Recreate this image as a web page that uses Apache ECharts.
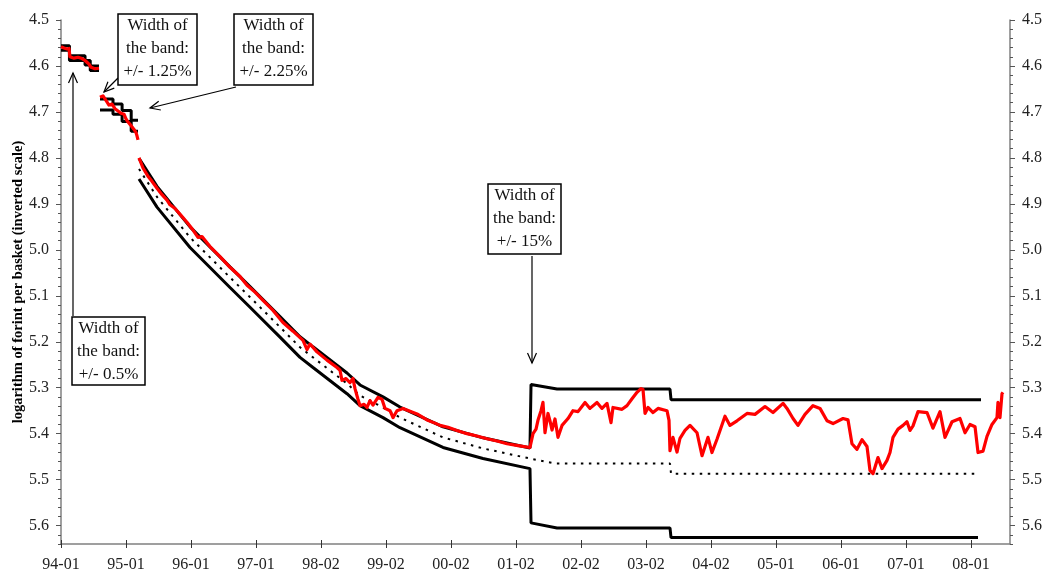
<!DOCTYPE html>
<html>
<head>
<meta charset="utf-8">
<script src="https://cdn.jsdelivr.net/npm/echarts@6/dist/echarts.min.js"></script>
<style>html,body{margin:0;padding:0;background:#fff}#c{width:1046px;height:576px}</style>
</head>
<body>
<div id="c"></div>
<script>
// x positions are in "tick units": 0 = 94-01, 1 = 95-01, ... (one tick per labelled date)
const tickLabels = ['94-01','95-01','96-01','97-01','98-02','99-02','00-02','01-02','02-02','03-02','04-02','05-01','06-01','07-01','08-01'];
const yTickValues = [4.5,4.6,4.7,4.8,4.9,5.0,5.1,5.2,5.3,5.4,5.5,5.6];

// early narrow bands (step lines)
const earlyUpper = [[0,4.556],[0.13,4.578],[0.37,4.588],[0.45,4.600],[0.585,4.600],[0.59,'-'],
  [0.6,4.672],[0.8,4.683],[0.94,4.697],[1.08,4.718],[1.185,4.718]];
const earlyLower = [[0,4.566],[0.13,4.588],[0.37,4.598],[0.45,4.610],[0.585,4.610],[0.59,'-'],
  [0.6,4.696],[0.8,4.705],[0.94,4.721],[1.08,4.742],[1.185,4.742]];

// crawling peg band and the later +/-15% band
const bandUpper = [[1.2,4.801],[1.477,4.862],[1.985,4.950],[2.6,5.037],[2.908,5.080],[3.369,5.145],[3.677,5.189],
  [3.877,5.211],[4.4,5.268],[4.6,5.294],[4.954,5.320],[5.215,5.342],[5.877,5.385],[6.492,5.409],[7.215,5.431],
  [7.231,5.293],[7.631,5.303],[9.369,5.303],[9.385,5.326],[14.154,5.326]];
const bandLower = [[1.2,4.846],[1.477,4.907],[1.985,4.995],[2.6,5.082],[2.908,5.125],[3.369,5.190],[3.677,5.234],
  [3.877,5.256],[4.4,5.313],[4.6,5.339],[4.954,5.365],[5.215,5.387],[5.877,5.430],[6.492,5.454],[7.215,5.476],
  [7.231,5.594],[7.631,5.605],[9.369,5.605],[9.385,5.626],[14.108,5.626]];
const bandCentral = [[1.2,4.824],[1.477,4.885],[1.985,4.973],[2.6,5.060],[2.908,5.103],[3.369,5.168],[3.677,5.212],
  [3.877,5.234],[4.4,5.291],[4.6,5.317],[4.954,5.343],[5.215,5.365],[5.877,5.408],[6.492,5.432],[7.215,5.454],
  [7.6,5.465],[9.369,5.465],[9.385,5.487],[14.092,5.487]];

// exchange rate (log forint per basket)
const rate = [[0,4.558],[0.046,4.561],[0.092,4.563],[0.123,4.562],[0.138,4.580],[0.2,4.583],[0.262,4.581],[0.323,4.584],
  [0.369,4.588],[0.4,4.592],[0.431,4.596],[0.462,4.603],[0.523,4.606],[0.585,4.605],[0.59,'-'],
  [0.6,4.668],[0.646,4.665],[0.692,4.675],[0.738,4.685],[0.785,4.683],[0.831,4.693],[0.877,4.698],[0.923,4.703],
  [0.969,4.705],[1.0,4.715],[1.031,4.722],[1.062,4.727],[1.092,4.730],[1.123,4.738],[1.154,4.745],[1.169,4.752],
  [1.185,4.761],[1.19,'-'],
  [1.2,4.800],[1.262,4.822],[1.338,4.840],[1.4,4.851],[1.477,4.866],[1.554,4.880],[1.631,4.892],[1.677,4.902],
  [1.754,4.910],[1.846,4.925],[1.938,4.940],[2.031,4.957],[2.108,4.973],[2.169,4.971],[2.292,4.993],[2.446,5.015],
  [2.6,5.038],[2.754,5.058],[2.862,5.077],[2.985,5.092],[3.108,5.110],[3.262,5.132],[3.415,5.158],[3.569,5.177],
  [3.723,5.197],[3.785,5.217],[3.831,5.205],[3.938,5.222],[4.092,5.240],[4.246,5.256],[4.292,5.262],[4.323,5.284],
  [4.385,5.280],[4.446,5.289],[4.492,5.280],[4.523,5.302],[4.569,5.325],[4.6,5.339],[4.662,5.336],[4.708,5.343],
  [4.754,5.328],[4.8,5.338],[4.877,5.321],[4.938,5.325],[4.985,5.345],[5.062,5.350],[5.108,5.365],[5.169,5.350],
  [5.262,5.345],[5.369,5.351],[5.477,5.357],[5.631,5.370],[5.754,5.377],[5.831,5.382],[5.954,5.386],[6.092,5.393],
  [6.246,5.400],[6.4,5.405],[6.554,5.411],[6.708,5.416],[6.862,5.422],[7.031,5.426],[7.215,5.430],
  [7.231,5.432],[7.262,5.400],[7.308,5.390],[7.338,5.371],[7.385,5.350],[7.415,5.332],[7.446,5.398],[7.492,5.356],
  [7.523,5.372],[7.554,5.392],[7.6,5.368],[7.646,5.408],[7.708,5.382],[7.8,5.367],[7.877,5.350],[7.954,5.352],
  [8.062,5.332],[8.138,5.345],[8.246,5.332],[8.323,5.345],[8.4,5.334],[8.462,5.376],[8.492,5.343],[8.631,5.347],
  [8.708,5.339],[8.785,5.324],[8.862,5.310],[8.923,5.302],[8.954,5.304],[8.985,5.356],[9.031,5.343],[9.108,5.354],
  [9.185,5.345],[9.323,5.350],[9.354,5.371],[9.369,5.437],[9.415,5.408],[9.477,5.440],[9.523,5.410],[9.6,5.393],
  [9.677,5.382],[9.785,5.398],[9.862,5.448],[9.954,5.408],[10.015,5.441],[10.092,5.412],[10.215,5.362],[10.292,5.382],
  [10.4,5.372],[10.554,5.356],[10.677,5.358],[10.831,5.341],[10.954,5.354],[11.108,5.334],[11.169,5.345],[11.262,5.367],
  [11.338,5.382],[11.446,5.358],[11.569,5.339],[11.677,5.345],[11.785,5.372],[11.877,5.378],[12.031,5.367],[12.108,5.370],
  [12.169,5.422],[12.246,5.434],[12.323,5.413],[12.4,5.428],[12.446,5.480],[12.492,5.487],[12.569,5.452],[12.631,5.476],
  [12.708,5.458],[12.754,5.441],[12.8,5.408],[12.877,5.390],[12.954,5.382],[13.015,5.374],[13.062,5.393],[13.108,5.383],
  [13.185,5.352],[13.323,5.354],[13.415,5.388],[13.523,5.352],[13.6,5.408],[13.708,5.374],[13.831,5.367],[13.908,5.398],
  [13.985,5.380],[14.062,5.385],[14.108,5.441],[14.185,5.438],[14.246,5.406],[14.323,5.380],[14.4,5.365],[14.415,5.332],
  [14.446,5.365],[14.477,5.313],[14.492,5.310]];

const FONT = "'Liberation Serif','Times New Roman',serif";
const chart = echarts.init(document.getElementById('c'));

function arrow(x1, y1, x2, y2) {
  const a = Math.atan2(y2 - y1, x2 - x1), L = 11, w = 0.42;
  return [
    {type:'line', shape:{x1,y1,x2,y2}, style:{stroke:'#000', lineWidth:1.2}},
    {type:'polyline', shape:{points:[[x2 - L*Math.cos(a - w), y2 - L*Math.sin(a - w)],[x2,y2],[x2 - L*Math.cos(a + w), y2 - L*Math.sin(a + w)]]},
     style:{stroke:'#000', lineWidth:1.2, fill:null}}
  ];
}
function box(x, y, w, h, lines) {
  const els = [{type:'rect', shape:{x, y, width:w, height:h}, style:{fill:'#fff', stroke:'#000', lineWidth:1.5}, z:10}];
  lines.forEach((t, i) => els.push({type:'text', z:11, style:{text:t, x:x + w/2, y:y + 12 + i*23, align:'center', verticalAlign:'middle',
    font:"17px 'Liberation Serif','Times New Roman',serif", fill:'#111'}}));
  return els;
}
const graphics = [].concat(
  box(72, 317, 73, 68, ['Width of','the band:','+/- 0.5%']),
  arrow(73, 316, 73, 73),
  box(118, 14, 79, 71, ['Width of','the band:','+/- 1.25%']),
  arrow(118, 78, 104, 92),
  box(234, 14, 79, 71, ['Width of','the band:','+/- 2.25%']),
  arrow(236, 87, 150, 108),
  box(488, 184, 73, 70, ['Width of','the band:','+/- 15%']),
  arrow(532, 256, 532, 363)
);

const axisColor = '#808080';
const labelStyle = {color:'#222', fontFamily:FONT, fontSize:16};
function yMain(pos, margin) {
  return {type:'value', position:pos, min:4.5, max:5.64, inverse:true, interval:0.1,
    axisLine:{show:true, lineStyle:{color:axisColor, width:1.5}},
    axisTick:{show:true, length:5, customValues:yTickValues, lineStyle:{color:'#555'}},
    axisLabel:Object.assign({customValues:yTickValues, margin:margin, formatter:v => v.toFixed(1)}, labelStyle),
    splitLine:{show:false}};
}
function yMinor(pos) {
  return {type:'value', position:pos, min:4.5, max:5.64, inverse:true, interval:0.02,
    axisLine:{show:false}, axisTick:{show:true, length:3, lineStyle:{color:'#555'}},
    axisLabel:{show:false}, splitLine:{show:false}};
}
const xTickVals = tickLabels.map((_, i) => i);
const yl = yMain('left', 12);
yl.name = 'logarithm of forint per basket (inverted scale)';
yl.nameLocation = 'middle';
yl.nameGap = 35;
yl.nameMoveOverlap = false;
yl.nameTextStyle = {fontFamily:FONT, fontSize:14.5, fontWeight:'bold', color:'#000'};

const option = {
  animation:false,
  backgroundColor:'#fff',
  grid:{left:61, right:36, top:20, bottom:32, containLabel:false, outerBoundsMode:'none'},
  xAxis:[
    {type:'value', min:0, max:14.6, interval:1, position:'bottom',
     axisLine:{show:true, lineStyle:{color:axisColor, width:1.5}},
     axisTick:{show:true, length:4, customValues:xTickVals, lineStyle:{color:'#333'}},
     axisLabel:Object.assign({customValues:xTickVals, margin:13, formatter:v => tickLabels[Math.round(v)] || ''}, labelStyle),
     splitLine:{show:false}},
    {type:'value', min:0, max:14.6, interval:1, position:'bottom',
     axisLine:{show:false}, axisTick:{show:true, inside:true, length:4, customValues:xTickVals, lineStyle:{color:'#333'}},
     axisLabel:{show:false}, splitLine:{show:false}}
  ],
  yAxis:[yl, yMinor('left'), yMain('right', 12), yMinor('right')],
  series:[
    {type:'line', data:earlyUpper, step:'end', showSymbol:false, lineStyle:{color:'#000', width:3}, z:2},
    {type:'line', data:earlyLower, step:'end', showSymbol:false, lineStyle:{color:'#000', width:3}, z:2},
    {type:'line', data:bandUpper, showSymbol:false, lineStyle:{color:'#000', width:3}, z:2},
    {type:'line', data:bandLower, showSymbol:false, lineStyle:{color:'#000', width:3}, z:2},
    {type:'line', data:bandCentral, showSymbol:false, lineStyle:{color:'#000', width:2, type:[2.5,5.5]}, z:2},
    {type:'line', data:rate, showSymbol:false, lineStyle:{color:'#ff0000', width:3.2, join:'round'}, z:3}
  ],
  graphic:graphics
};
chart.setOption(option);
</script>
</body>
</html>
